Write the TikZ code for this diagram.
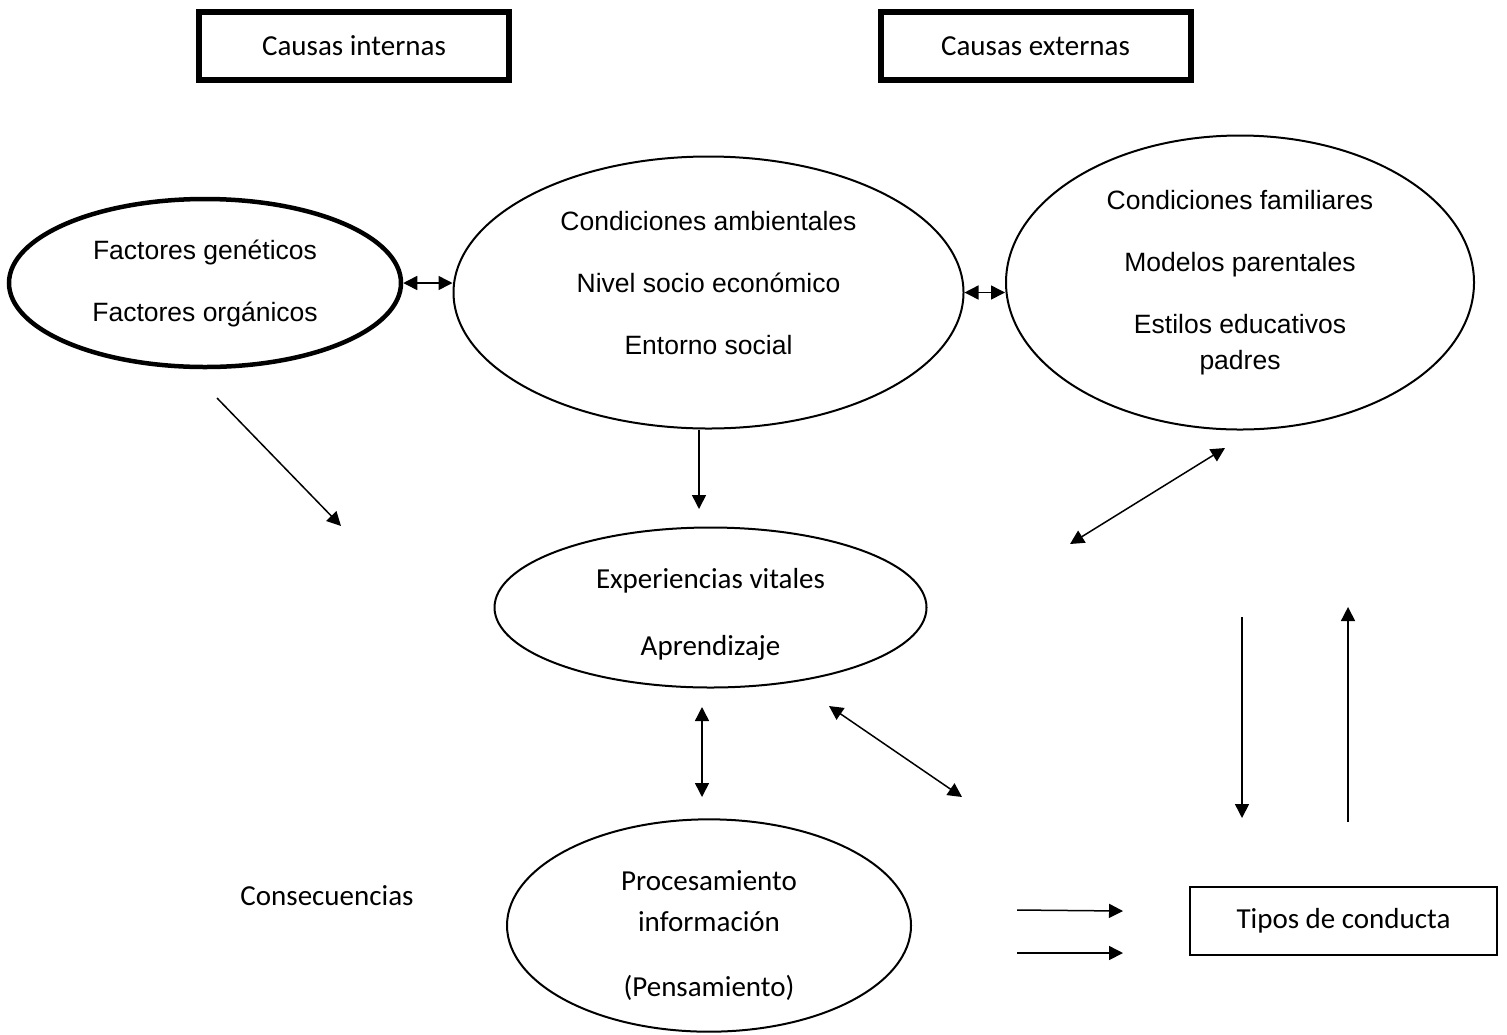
\documentclass[tikz,border=0pt]{standalone}
\usepackage{fontspec}
\setmainfont{Liberation Sans}
\newfontfamily\calibri{Carlito}
\usetikzlibrary{arrows.meta,shapes.geometric}

\newcommand{\arialsz}{\fontsize{13.25pt}{31pt}\selectfont}
\newcommand{\calsz}{\calibri\fontsize{14.5pt}{33.5pt}\selectfont}
% extra room above / below a line, to move the text off the centre
\newcommand{\padtop}[1]{\rule{0pt}{\dimexpr\fontcharht\font`l+#1\relax}}
\newcommand{\padbot}[1]{\rule[-#1]{0pt}{#1}}

\tikzset{
  elli/.style={draw, ellipse, line width=1pt, inner sep=0pt, align=center, font=\arialsz},
  thickbox/.style={draw, line width=3pt, minimum width=155pt, minimum height=34pt, font=\calsz},
  thinbox/.style={draw, line width=1pt, minimum width=153.5pt, minimum height=34pt, font=\calsz},
}

\begin{document}
\begin{tikzpicture}[x=0.5pt, y=-0.5pt, >={Triangle[length=7pt,width=7pt]}, line width=0.75pt]
    \useasboundingbox (0,0) rectangle (1507,1034);

    \node[thickbox] (internas) at (354,46)    {Causas internas};
    \node[thickbox] (externas) at (1035.5,46) {Causas externas};

    \node[elli, line width=2.25pt, minimum width=196pt, minimum height=84pt] (genet) at (205,283)
      {Factores genéticos\\Factores orgánicos};
    \node[elli, minimum width=255pt, minimum height=136pt] (ambient) at (708.5,292.5)
      {Condiciones ambientales\\Nivel socio económico\\Entorno social\padbot{10pt}};
    \node[elli, minimum width=234pt, minimum height=147pt] (famil) at (1240,282.5)
      {Condiciones familiares\\Modelos parentales\\Estilos educativos\\[-13pt]padres};
    \node[elli, font=\calsz, minimum width=216pt, minimum height=80pt] (exper) at (710.5,607.5)
      {\padtop{6.5pt}Experiencias vitales\\Aprendizaje};
    \node[elli, font=\calsz\fontsize{14.5pt}{32.5pt}\selectfont, minimum width=202pt, minimum height=104pt] (proces) at (709,925.5)
      {\padtop{10pt}Procesamiento\\[-12pt]información\\(Pensamiento)};

    \node[font=\calsz] (consec) at (327,896) {Consecuencias};
    \node[thinbox] (tipos) at (1343.5,921) {Tipos de conducta};

    % loose ends
    \coordinate (g-top) at (217,398);
    \coordinate (g-bot) at (341,526);
    \coordinate (a-bot) at (699,509);
    \coordinate (f-top) at (1225,448);
    \coordinate (f-bot) at (1070,544);
    \coordinate (e-top) at (702,707);
    \coordinate (e-bot) at (702,797);
    \coordinate (d-top) at (829,706);
    \coordinate (d-bot) at (962,797);
    \coordinate (dn-top) at (1242,617);
    \coordinate (dn-bot) at (1242,818);
    \coordinate (up-top) at (1348,607);
    \coordinate (up-bot) at (1348,822);
    \coordinate (p1-l) at (1017,910);
    \coordinate (p1-r) at (1123,911);
    \coordinate (p2-l) at (1017,953);
    \coordinate (p2-r) at (1123,953);

    \path (genet.east)            edge[<->] (genet.east -| ambient.west)
          (ambient.east)          edge[<->] (ambient.east -| famil.west)
          (g-top)                 edge[->]  (g-bot)
          (ambient.south -| a-bot) edge[->] (a-bot)
          (f-bot)                 edge[<->] (f-top)
          (e-top)                 edge[<->] (e-bot)
          (d-top)                 edge[<->] (d-bot)
          (dn-top)                edge[->]  (dn-bot)
          (up-bot)                edge[->]  (up-top)
          (p1-l)                  edge[->]  (p1-r)
          (p2-l)                  edge[->]  (p2-r);
\end{tikzpicture}
\end{document}
